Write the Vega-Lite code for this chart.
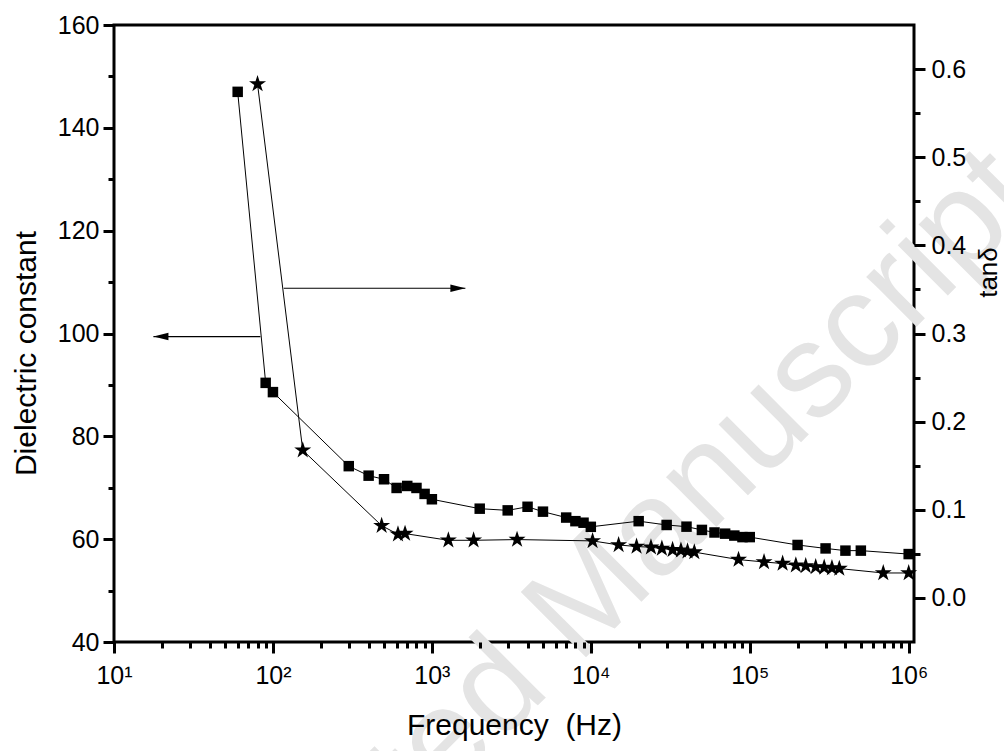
{
  "$schema": "https://vega.github.io/schema/vega-lite/v6.json",
  "width": 800,
  "height": 617,
  "autosize": "none",
  "padding": {"left": 114, "top": 25, "right": 90, "bottom": 109},
  "background": "white",
  "config": {
    "view": {"stroke": "black", "strokeWidth": 3},
    "font": "Liberation Sans",
    "axis": {
      "domain": false, "ticks": true, "tickColor": "black", "tickWidth": 3, "zindex": 2,
      "labelColor": "black", "titleColor": "black", "labelFont": "Liberation Sans", "titleFont": "Liberation Sans",
      "labelFontSize": 25, "titleFontSize": 30, "titleFontWeight": "normal", "grid": false,
      "labelFlush": false, "labelOverlap": false
    }
  },
  "datasets": {
    "eps": [
      {"f": 60, "v": 147.0}, {"f": 90, "v": 90.4}, {"f": 100, "v": 88.6}, {"f": 300, "v": 74.2},
      {"f": 400, "v": 72.35}, {"f": 500, "v": 71.65}, {"f": 600, "v": 69.96}, {"f": 700, "v": 70.35},
      {"f": 800, "v": 69.96}, {"f": 900, "v": 68.8}, {"f": 1000, "v": 67.76}, {"f": 2000, "v": 65.93},
      {"f": 3000, "v": 65.6}, {"f": 4000, "v": 66.3}, {"f": 5000, "v": 65.35}, {"f": 7000, "v": 64.2},
      {"f": 8000, "v": 63.5}, {"f": 9000, "v": 63.2}, {"f": 10000, "v": 62.4}, {"f": 20000, "v": 63.5},
      {"f": 30000, "v": 62.76}, {"f": 40000, "v": 62.43}, {"f": 50000, "v": 61.8}, {"f": 60000, "v": 61.3},
      {"f": 70000, "v": 61.07}, {"f": 80000, "v": 60.7}, {"f": 90000, "v": 60.4}, {"f": 100000, "v": 60.4},
      {"f": 200000, "v": 58.87}, {"f": 300000, "v": 58.2}, {"f": 400000, "v": 57.77}, {"f": 500000, "v": 57.77},
      {"f": 1000000, "v": 57.1}
    ],
    "tan": [
      {"f": 80, "t": 0.583}, {"f": 154, "t": 0.1676}, {"f": 483, "t": 0.082}, {"f": 612, "t": 0.0722},
      {"f": 678, "t": 0.073}, {"f": 1270, "t": 0.0654}, {"f": 1830, "t": 0.0654}, {"f": 3435, "t": 0.0662},
      {"f": 10260, "t": 0.0647}, {"f": 14960, "t": 0.0601}, {"f": 19400, "t": 0.0583}, {"f": 23900, "t": 0.0575},
      {"f": 28000, "t": 0.056}, {"f": 32700, "t": 0.0547}, {"f": 36900, "t": 0.054}, {"f": 40600, "t": 0.053},
      {"f": 44800, "t": 0.052}, {"f": 85000, "t": 0.0435}, {"f": 123000, "t": 0.0408}, {"f": 161000, "t": 0.039},
      {"f": 195000, "t": 0.037}, {"f": 225000, "t": 0.0363}, {"f": 260000, "t": 0.0352}, {"f": 294000, "t": 0.0345},
      {"f": 329000, "t": 0.034}, {"f": 366000, "t": 0.0333}, {"f": 692000, "t": 0.0283}, {"f": 1000000, "t": 0.0283}
    ],
    "arrows": [
      {"f": 17.7, "f2": 83.4, "v": 99.4},
      {"f": 116.9, "f2": 1625, "v": 108.8}
    ],
    "heads": [
      {"f": 17.7, "v": 99.4, "dir": "left"},
      {"f": 1625, "v": 108.8, "dir": "right"}
    ],
    "wm": [
      {"f": 11300, "v": 39.6, "txt": "Accepted Manuscript"}
    ]
  },
  "layer": [
    {
      "resolve": {"axis": {"y": "independent"}},
      "layer": [
        {
          "encoding": {
            "x": {
              "field": "f", "type": "quantitative",
              "scale": {"type": "log", "domain": [10, 1080000], "nice": false},
              "axis": {
                "orient": "bottom",
                "zindex": 2,
                "title": "Frequency\u00a0 (Hz)",
                "values": [10, 100, 1000, 10000, 100000, 1000000],
                "labelExpr": "'10' + ['⁰','¹','²','³','⁴','⁵','⁶'][round(log(datum.value)/LN10)]",
                "tickSize": 11,
                "labelPadding": 10,
                "titlePadding": 22
              }
            },
            "y": {
              "field": "v", "type": "quantitative",
              "scale": {"domain": [40, 160], "nice": false, "zero": false},
              "axis": {
                "orient": "left",
                "zindex": 2,
                "title": "Dielectric constant",
                "values": [40, 60, 80, 100, 120, 140, 160],
                "tickSize": 11,
                "labelPadding": 4,
                "titleX": -79,
                "titleY": 328,
                "titleAlign": "center",
                "titleBaseline": "alphabetic",
                "titleAngle": 270
              }
            }
          },
          "layer": [
            {"data": {"name": "wm"}, "mark": {"type": "text", "color": "#e4e4e4", "fontSize": 134, "font": "Liberation Sans", "angle": 315, "align": "center", "baseline": "alphabetic", "clip": false}, "encoding": {"text": {"field": "txt"}}},
            {"data": {"name": "eps"}, "mark": {"type": "line", "color": "black", "strokeWidth": 1}},
            {"data": {"name": "eps"}, "mark": {"type": "point", "shape": "square", "filled": true, "color": "black", "size": 110, "opacity": 1}},
            {"data": {"name": "arrows"}, "mark": {"type": "rule", "color": "black", "strokeWidth": 1.2}, "encoding": {"x2": {"field": "f2"}}},
            {"data": {"name": "heads"}, "mark": {"type": "point", "filled": true, "color": "black", "opacity": 1, "size": 225},
             "encoding": {"shape": {"field": "dir", "type": "nominal", "scale": {"domain": ["left", "right"], "range": ["M 0 0 L 2 -0.5 L 2 0.5 Z", "M 0 0 L -2 -0.5 L -2 0.5 Z"]}, "legend": null}}}
          ]
        },
        {
          "data": {"name": "eps"},
          "mark": {"type": "point", "opacity": 0},
          "encoding": {
            "y": {
              "field": "v", "type": "quantitative",
              "scale": {"domain": [40, 160], "nice": false, "zero": false},
              "axis": {"orient": "left", "zindex": 2, "title": null, "labels": false, "ticks": true, "values": [50, 70, 90, 110, 130, 150], "tickSize": 6}
            }
          }
        }
      ]
    },
    {
      "resolve": {"axis": {"y": "independent"}},
      "layer": [
        {
          "encoding": {
            "x": {"field": "f", "type": "quantitative", "scale": {"type": "log", "domain": [10, 1080000], "nice": false}, "axis": null},
            "y": {
              "field": "t", "type": "quantitative",
              "scale": {"domain": [-0.05, 0.65], "nice": false, "zero": false},
              "axis": {
                "orient": "right",
                "zindex": 2,
                "title": "tanδ",
                "titleAngle": 270,
                "titleFontSize": 26,
                "titleX": 82,
                "titleY": 247,
                "titleAlign": "center",
                "titleBaseline": "alphabetic",
                "values": [0, 0.1, 0.2, 0.3, 0.4, 0.5, 0.6],
                "format": ".1f",
                "tickSize": 11,
                "labelPadding": 6
              }
            }
          },
          "layer": [
            {"data": {"name": "tan"}, "mark": {"type": "line", "color": "black", "strokeWidth": 1}},
            {"data": {"name": "tan"}, "mark": {"type": "point", "shape": "M 0 -1 L 0.2245 -0.309 L 0.951 -0.309 L 0.363 0.118 L 0.588 0.809 L 0 0.382 L -0.588 0.809 L -0.363 0.118 L -0.951 -0.309 L -0.2245 -0.309 Z", "filled": true, "color": "black", "size": 320, "opacity": 1}}
          ]
        },
        {
          "data": {"name": "tan"},
          "mark": {"type": "point", "opacity": 0},
          "encoding": {
            "y": {
              "field": "t", "type": "quantitative",
              "scale": {"domain": [-0.05, 0.65], "nice": false, "zero": false},
              "axis": {"orient": "right", "zindex": 2, "title": null, "labels": false, "ticks": true, "values": [0.05, 0.15, 0.25, 0.35, 0.45, 0.55], "tickSize": 6}
            }
          }
        }
      ]
    },
    {
      "data": {"name": "eps"},
      "mark": {"type": "point", "opacity": 0},
      "encoding": {
        "x": {
          "field": "f", "type": "quantitative",
          "scale": {"type": "log", "domain": [10, 1080000], "nice": false},
          "axis": {
            "orient": "bottom", "zindex": 2, "title": null, "labels": false, "ticks": true, "tickSize": 6,
            "values": [20,30,40,50,60,70,80,90,200,300,400,500,600,700,800,900,2000,3000,4000,5000,6000,7000,8000,9000,20000,30000,40000,50000,60000,70000,80000,90000,200000,300000,400000,500000,600000,700000,800000,900000]
          }
        }
      }
    }
  ],
  "resolve": {"scale": {"y": "independent"}, "axis": {"x": "independent", "y": "independent"}}
}
